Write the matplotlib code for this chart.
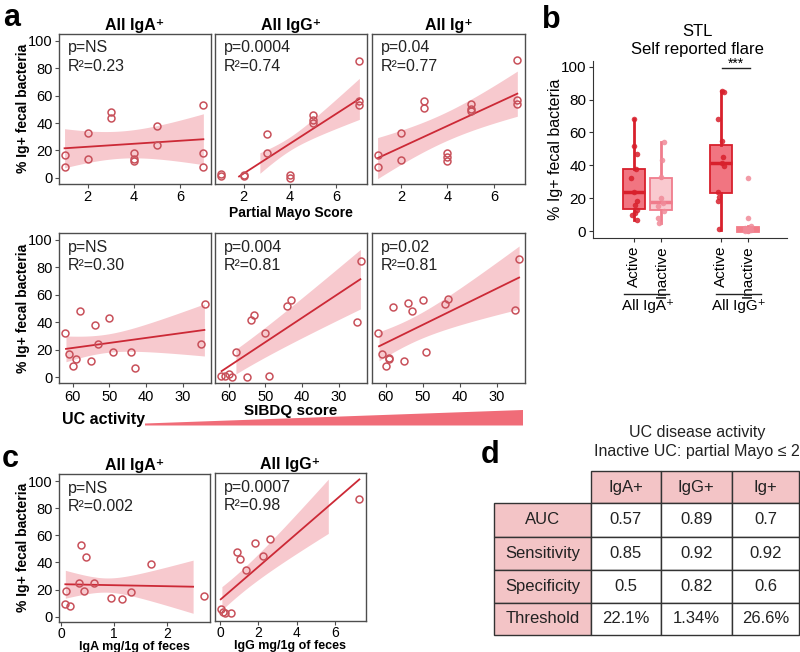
import numpy as np
import matplotlib
matplotlib.use('Agg')
import matplotlib.pyplot as plt
from matplotlib.patches import Rectangle, Polygon

plt.rcParams['font.family'] = ['Liberation Sans', 'DejaVu Sans']

# ---- panel a, top row: partial Mayo score
mayo_iga_x = [1, 1, 2, 2, 3, 3, 4, 4, 4, 5, 5, 7, 7, 7]
mayo_iga_y = [17, 8, 33, 14, 48, 44, 18, 14, 12, 38, 24, 53, 18, 8]
mayo_igg_x = [1, 1, 2, 2, 3, 3, 4, 4, 5, 5, 5, 7, 7, 7]
mayo_igg_y = [3, 1, 2, 1, 32, 18, 2, 0, 46, 42, 40, 85, 56, 53]
mayo_ig_x = [1, 1, 2, 2, 3, 3, 4, 4, 4, 5, 5, 5, 7, 7, 7]
mayo_ig_y = [17, 8, 33, 13, 56, 51, 18, 15, 12, 54, 50, 49, 86, 57, 54]

# ---- panel a, bottom row: SIBDQ score
sib_x = [62, 61, 60, 59, 58, 55, 54, 53, 50, 49, 44, 43, 25, 24]
sib_iga = [32, 17, 8, 13, 48, 12, 38, 24, 43, 18, 18, 7, 24, 53]
sib_igg = [1, 1, 2.5, 0, 18, 0, 42, 45, 32, 1, 52, 56, 40, 85]
sib_x3 = [62, 61, 60, 59, 59, 58, 55, 54, 53, 50, 49, 44, 43, 25, 24]
sib_ig = [32, 17, 8, 14, 13, 51, 12, 54, 48, 56, 18, 53, 57, 49, 86]

# ---- panel c: Ig concentration in feces
iga_mg = [0.08, 0.17, 0.09, 0.37, 0.47, 0.33, 0.44, 0.63, 0.95, 1.15, 1.32, 1.70, 2.70]
iga_pct = [9, 8, 19, 53, 44, 25, 19, 25, 14, 13, 18, 39, 15]
igg_mg = [0.04, 0.14, 0.26, 0.56, 0.9, 1.06, 1.34, 1.84, 2.24, 2.59, 7.27]
igg_pct = [5, 3, 2.5, 2.5, 47, 42, 34, 54, 44, 57, 86]

# regression lines (endpoints) and CI band half widths
fits = {
    'mayo_iga': ([1, 7], [21.6, 28.2], [1, 4, 7], [14.3, 10.3, 18.6]),
    'mayo_igg': ([1.8, 7], [1, 57.7], [2.7, 4.85, 7], [7.5, 6.5, 15]),
    'mayo_ig': ([1, 7], [14.4, 61.5], [1, 4, 7], [15, 10.5, 16.5]),
    'sib_iga': ([61.8, 24.1], [20.6, 34.4], [61.8, 45, 24.1], [9.4, 7.9, 19]),
    'sib_igg': ([61.9, 24.1], [4.4, 71.4], [58, 45, 24.1], [9, 12.6, 21.7]),
    'sib_ig': ([61.8, 23.9], [22.5, 72.6], [61.8, 45, 23.9], [10.6, 11, 23]),
    'c_iga': ([0.08, 2.5], [23.9, 22.1], [0.08, 1, 2.5], [10.3, 5.5, 19.6]),
    'c_igg': ([0.04, 7.27], [12.3, 100.7], [0.1, 2.7, 5.65], [8.6, 11, 20]),
}

p_texts = {
    'mayo_iga': ('p=NS', 'R²=0.23'), 'mayo_igg': ('p=0.0004', 'R²=0.74'),
    'mayo_ig': ('p=0.04', 'R²=0.77'), 'sib_iga': ('p=NS', 'R²=0.30'),
    'sib_igg': ('p=0.004', 'R²=0.81'), 'sib_ig': ('p=0.02', 'R²=0.81'),
    'c_iga': ('p=NS', 'R²=0.002'), 'c_igg': ('p=0.0007', 'R²=0.98'),
}

# ---- panel b: self reported flare
b_labels = ['Active', 'Inactive', 'Active', 'Inactive']
b_pos = [1, 2, 4.2, 5.2]
b_stats = [  # q1, median, q3, whisker low, whisker high
    (13.2, 23.9, 37.5, 6.7, 68),
    (12.8, 17.8, 32, 4.7, 54),
    (23.3, 41.6, 52.3, 0.6, 85),
    (-0.5, 1, 2.7, 0, 3),
]
iga_active = [68, 52, 47, 38, 32, 24, 18, 16, 13, 11, 10, 7]
iga_active_dx = [0.0, 0.0, 0.1, 0.05, -0.13, 0.0, 0.08, 0.03, 0.1, 0.02, -0.08, 0.1]
iga_inactive = [54, 43, 33, 20, 17, 15, 12, 8, 5]
iga_inactive_dx = [0.1, 0.03, 0.0, -0.03, 0.05, -0.12, 0.08, -0.12, -0.1]
igg_active = [85, 84.5, 68.5, 55, 45, 41.5, 39.5, 24, 21, 18, 1]
igg_active_dx = [0.05, 0.12, -0.1, 0.05, 0.1, 0.05, 0.12, -0.1, -0.05, -0.1, -0.05]
igg_inactive = [32, 8, 3, 2, 1.5, 1, 0.5, 0, 0]
igg_inactive_dx = [0.0, 0.0, 0.1, -0.1, 0.05, -0.05, 0.12, -0.12, 0.0]

# ---- panel d: ROC table
d_cols = ['IgA+', 'IgG+', 'Ig+']
d_rows = ['AUC', 'Sensitivity', 'Specificity', 'Threshold']
d_vals = [['0.57', '0.89', '0.7'],
          ['0.85', '0.92', '0.92'],
          ['0.5', '0.82', '0.6'],
          ['22.1%', '1.34%', '26.6%']]

LINE = '#cc2936'
BAND = '#f7c9ce'
PT = '#c8505a'
SPINE = '#4d4d4d'
W, H = 800, 652

fig = plt.figure(figsize=(8, 6.52), dpi=100)

ov = fig.add_axes([0, 0, 1, 1])
ov.set_xlim(0, W)
ov.set_ylim(H, 0)
ov.axis('off')


def px_axes(x0, y0, x1, y1):
    return fig.add_axes([x0 / W, 1 - y1 / H, (x1 - x0) / W, (y1 - y0) / H])


def scatter_panel(ax, x, y, key, xlim, ylim, xticks, left, title=None):
    lx, ly, bx, bw = fits[key]
    slope = (ly[1] - ly[0]) / (lx[1] - lx[0])
    xs = np.linspace(bx[0], bx[-1], 80)
    yc = ly[0] + slope * (xs - lx[0])
    coef = np.polyfit(bx, np.array(bw) ** 2, 2)
    hw = np.sqrt(np.clip(np.polyval(coef, xs), 1, None))
    ax.fill_between(xs, yc - hw, yc + hw, color=BAND, lw=0, zorder=1)
    ax.plot(lx, ly, color=LINE, lw=1.3, zorder=2)
    ax.plot(x, y, 'o', mfc='none', mec=PT, mew=1.1, ms=5, zorder=3)
    ax.set_xlim(*xlim)
    ax.set_ylim(*ylim)
    ax.set_xticks(xticks)
    ax.set_yticks([0, 20, 40, 60, 80, 100])
    ax.tick_params(labelsize=10.5, length=3, color=SPINE, pad=1.5)
    if not left:
        ax.tick_params(axis='y', left=False, labelleft=False)
    for s in ax.spines.values():
        s.set_color(SPINE)
        s.set_linewidth(1.0)
    pt, rt = p_texts[key]
    ax.text(0.06, 0.905, pt, transform=ax.transAxes, fontsize=11.5, va='center', color='#222222')
    ax.text(0.06, 0.78, rt, transform=ax.transAxes, fontsize=11.5, va='center', color='#222222')
    if title:
        ax.set_title(title, fontsize=11.5, fontweight='bold', pad=3)


ylim_a = (-4.5, 105.3)
cols_x = [(59, 211), (215, 367), (372, 525)]
titles = ['All IgA⁺', 'All IgG⁺', 'All Ig⁺']

row1 = [(mayo_iga_x, mayo_iga_y, 'mayo_iga'), (mayo_igg_x, mayo_igg_y, 'mayo_igg'),
        (mayo_ig_x, mayo_ig_y, 'mayo_ig')]
row2 = [(sib_x, sib_iga, 'sib_iga'), (sib_x, sib_igg, 'sib_igg'), (sib_x3, sib_ig, 'sib_ig')]

axes_r1 = []
for i, (x, y, key) in enumerate(row1):
    ax = px_axes(cols_x[i][0], 33.7, cols_x[i][1], 184)
    scatter_panel(ax, x, y, key, (0.76, 7.33), ylim_a, [2, 4, 6], i == 0, titles[i])
    axes_r1.append(ax)
axes_r1[1].set_xlabel('Partial Mayo Score', fontsize=10, fontweight='bold', labelpad=1)
axes_r1[0].set_ylabel('% Ig+ fecal bacteria', fontsize=10, fontweight='bold')
axes_r1[0].yaxis.set_label_coords(-0.19, 0.5)

axes_r2 = []
for i, (x, y, key) in enumerate(row2):
    ax = px_axes(cols_x[i][0], 232.7, cols_x[i][1], 383.3)
    scatter_panel(ax, x, y, key, (63.7, 22.3), ylim_a, [60, 50, 40, 30], i == 0)
    axes_r2.append(ax)
axes_r2[1].set_xlabel('SIBDQ score', fontsize=11, fontweight='bold', labelpad=0)
axes_r2[0].set_ylabel('% Ig+ fecal bacteria', fontsize=10, fontweight='bold')
axes_r2[0].yaxis.set_label_coords(-0.19, 0.5)

# UC activity wedge
ov.text(61.7, 419.3, 'UC activity', fontsize=11.5, fontweight='bold', va='center', ha='left')
ov.add_patch(Polygon([(145, 423.5), (523, 410), (523, 425.5), (145, 425.5)],
                     closed=True, color='#f06c78', lw=0))

# panel c
ax_c1 = px_axes(59, 474, 210, 621.7)
scatter_panel(ax_c1, iga_mg, iga_pct, 'c_iga', (-0.04, 2.82), (-3.7, 105.2), [0, 1, 2], True, 'All IgA⁺')
ax_c1.set_ylabel('% Ig+ fecal bacteria', fontsize=10, fontweight='bold')
ax_c1.yaxis.set_label_coords(-0.19, 0.5)
ax_c2 = px_axes(215, 473.3, 365.7, 621)
scatter_panel(ax_c2, igg_mg, igg_pct, 'c_igg', (-0.26, 7.6), (-3.7, 105.2), [0, 2, 4, 6], False, 'All IgG⁺')
for ax, lab in [(ax_c1, 'IgA mg/1g of feces'), (ax_c2, 'IgG mg/1g of feces')]:
    ax.tick_params(axis='x', pad=0.5, labelsize=10)
    ax.set_xlabel(lab, fontsize=9, fontweight='bold', labelpad=0)

# panel b
axb = px_axes(593.3, 61, 786.7, 238.3)
stats = []
for (q1, med, q3, lo, hi), lab in zip(b_stats, b_labels):
    stats.append({'q1': q1, 'med': med, 'q3': q3, 'whislo': lo, 'whishi': hi, 'label': lab})
box_face = ['#f17581', '#f9c9cf', '#f17581', '#f27c88']
box_edge = ['#d8202c', '#f07c8c', '#d8202c', '#f27c88']
bp = axb.bxp(stats, positions=b_pos, widths=0.82, patch_artist=True,
             showfliers=False, showcaps=False)
for i in range(4):
    bp['boxes'][i].set_facecolor(box_face[i])
    bp['boxes'][i].set_edgecolor(box_edge[i])
    bp['boxes'][i].set_linewidth(1.3)
    bp['medians'][i].set_color(box_edge[i])
    bp['medians'][i].set_linewidth(2.5)
    for w in bp['whiskers'][2 * i:2 * i + 2]:
        w.set_color(box_edge[i])
        w.set_linewidth(2)

groups = [(iga_active, iga_active_dx), (iga_inactive, iga_inactive_dx),
          (igg_active, igg_active_dx), (igg_inactive, igg_inactive_dx)]
pt_cols = ['#d8202c', '#f08a98', '#d8202c', '#f08a98']
for i, (vals, dx) in enumerate(groups):
    axb.scatter(np.array(dx) + b_pos[i], vals, s=16, color=pt_cols[i], alpha=0.85, lw=0, zorder=4)

axb.set_xlim(-0.52, 6.64)
axb.set_ylim(-4.4, 103.5)
axb.set_yticks([0, 20, 40, 60, 80, 100])
axb.set_xticks(b_pos)
axb.set_xticklabels(b_labels, rotation=90, fontsize=11)
axb.tick_params(labelsize=11, length=3, color='#333333', pad=2)
axb.spines['top'].set_visible(False)
axb.spines['right'].set_visible(False)
for s in ['left', 'bottom']:
    axb.spines[s].set_color('#333333')
axb.set_ylabel('% Ig+ fecal bacteria', fontsize=11.5)
axb.yaxis.set_label_coords(-0.155, 0.5)
tr = axb.get_xaxis_transform()
axb.plot([0.62, 2.29], [-0.314, -0.314], color='#222222', lw=1, transform=tr, clip_on=False)
axb.plot([4.01, 5.68], [-0.314, -0.314], color='#222222', lw=1, transform=tr, clip_on=False)
axb.text(1.49, -0.38, 'All IgA⁺', transform=tr, ha='center', va='center', fontsize=11)
axb.text(4.85, -0.38, 'All IgG⁺', transform=tr, ha='center', va='center', fontsize=11)
axb.plot([4.24, 5.28], [99, 99], color='#222222', lw=1, clip_on=False)
axb.text(4.76, 99.6, '***', ha='center', va='baseline', fontsize=10)
ov.text(697, 31.7, 'STL', fontsize=12, ha='center', va='center')
ov.text(697, 49.3, 'Self reported flare', fontsize=12, ha='center', va='center')

# panel d table
ov.text(697, 432.3, 'UC disease activity', fontsize=11.5, ha='center', va='center', color='#222222')
ov.text(697, 451.7, 'Inactive UC: partial Mayo ≤ 2', fontsize=11.5, ha='center', va='center',
        color='#222222')
col_edges = [494.3, 590.7, 660.7, 731.7, 799.3]
row_edges = [471, 503.3, 536.7, 570, 602.7, 635]
PINK = '#f3c4c6'
FS_T = 12
for j, name in enumerate(d_cols):
    x0, x1 = col_edges[j + 1], col_edges[j + 2]
    ov.add_patch(Rectangle((x0, row_edges[0]), x1 - x0, row_edges[1] - row_edges[0],
                           facecolor=PINK, edgecolor='#333333', lw=1))
    ov.text((x0 + x1) / 2, (row_edges[0] + row_edges[1]) / 2, name, fontsize=FS_T,
            ha='center', va='center', color='#222222')
for i, name in enumerate(d_rows):
    y0, y1 = row_edges[i + 1], row_edges[i + 2]
    ov.add_patch(Rectangle((col_edges[0], y0), col_edges[1] - col_edges[0], y1 - y0,
                           facecolor=PINK, edgecolor='#333333', lw=1))
    ov.text((col_edges[0] + col_edges[1]) / 2, (y0 + y1) / 2, name, fontsize=FS_T,
            ha='center', va='center', color='#222222')
    for j in range(3):
        x0, x1 = col_edges[j + 1], col_edges[j + 2]
        ov.add_patch(Rectangle((x0, y0), x1 - x0, y1 - y0, facecolor='white',
                               edgecolor='#333333', lw=1))
        ov.text((x0 + x1) / 2, (y0 + y1) / 2, d_vals[i][j], fontsize=FS_T,
                ha='center', va='center', color='#222222')

# panel letters
for lab, x, y in [('a', 12, 18), ('b', 551, 20), ('c', 10, 459), ('d', 490, 455)]:
    ov.text(x, y, lab, fontsize=22, fontweight='bold', ha='center', va='center')

fig.savefig('out.png', dpi=100)
